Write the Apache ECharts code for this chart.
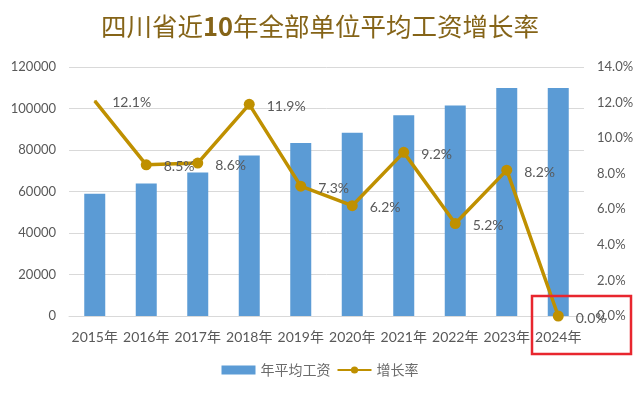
<!DOCTYPE html>
<html>
<head>
<meta charset="utf-8">
<script src="https://cdn.jsdelivr.net/npm/echarts@6/dist/echarts.min.js"></script>
<style>
html,body{margin:0;padding:0;background:#fff;}
#chart{width:640px;height:393px;}
</style>
</head>
<body>
<div id="chart"></div>
<script>
const categories = ['2015年','2016年','2017年','2018年','2019年','2020年','2021年','2022年','2023年','2024年'];
const wages = [58900, 63800, 69100, 77400, 83400, 88300, 96700, 101500, 109900, 109900];
const growth = [12.1, 8.5, 8.6, 11.9, 7.3, 6.2, 9.2, 5.2, 8.2, 0.0];
const leftTicks = {min: 0, max: 120000, interval: 20000};
const rightTicks = {min: 0, max: 14, interval: 2};

const chart = echarts.init(document.getElementById('chart'));
const fontLatin = 'Lato, "Noto Sans CJK SC", sans-serif';
const growthData = growth.map((v, i) => i === 0
  ? {value: v, symbolSize: 1, label: {distance: 17}}
  : v);

chart.setOption({
  animation: false,
  backgroundColor: '#ffffff',
  title: {
    text: '{a|四川省近}{b|10}{a|年全部单位平均工资增长率}',
    left: 'center',
    top: 9,
    textStyle: {
      rich: {
        a: {fontFamily: '"Noto Sans CJK SC", sans-serif', fontSize: 25.5, fontWeight: 'normal', color: '#856418'},
        b: {fontFamily: '"Noto Sans CJK SC", sans-serif', fontSize: 25.5, fontWeight: 'bold', color: '#856418'}
      }
    }
  },
  legend: {
    bottom: 11,
    left: 'center',
    itemGap: 6,
    textStyle: {fontFamily: '"Noto Sans CJK SC", sans-serif', fontSize: 14, color: '#6b6b6b'},
    data: [
      {name: '年平均工资', icon: 'rect', itemStyle: {color: '#5b9bd5'}},
      {name: '增长率'}
    ],
    itemWidth: 34,
    itemHeight: 9
  },
  grid: {left: 69, right: 56, top: 67, bottom: 77},
  xAxis: {
    type: 'category',
    data: categories,
    axisTick: {show: false},
    axisLine: {lineStyle: {color: '#d9d9d9', width: 1}},
    axisLabel: {fontFamily: fontLatin, fontSize: 14, color: '#595959', margin: 14, interval: 0}
  },
  yAxis: [
    {
      type: 'value',
      min: leftTicks.min, max: leftTicks.max, interval: leftTicks.interval,
      axisLine: {show: false}, axisTick: {show: false},
      splitLine: {lineStyle: {color: '#d9d9d9', width: 1}},
      axisLabel: {fontFamily: fontLatin, fontSize: 13, color: '#595959', margin: 13,
        formatter: v => String(v)}
    },
    {
      type: 'value',
      min: rightTicks.min, max: rightTicks.max, interval: rightTicks.interval,
      axisLine: {show: false}, axisTick: {show: false},
      splitLine: {show: false},
      axisLabel: {fontFamily: fontLatin, fontSize: 13, color: '#595959', margin: 13,
        formatter: v => v.toFixed(1) + '%'}
    }
  ],
  series: [
    {
      name: '年平均工资',
      type: 'bar',
      data: wages,
      barWidth: 21,
      itemStyle: {color: '#5b9bd5'}
    },
    {
      name: '增长率',
      type: 'line',
      yAxisIndex: 1,
      data: growthData,
      symbol: 'circle',
      symbolSize: 11,
      showAllSymbol: true,
      lineStyle: {color: '#bf9000', width: 3.5},
      itemStyle: {color: '#bf9000'},
      label: {
        show: true,
        position: 'right',
        distance: 12,
        offset: [0, 2],
        fontFamily: fontLatin,
        fontSize: 14,
        color: '#595959',
        formatter: p => Number(p.value).toFixed(1) + '%'
      }
    }
  ],
  graphic: [
    {
      type: 'rect',
      shape: {x: 532, y: 296, width: 99, height: 58},
      style: {fill: 'none', stroke: '#e8262e', lineWidth: 2.5},
      z: 100
    }
  ]
});
</script>
</body>
</html>
